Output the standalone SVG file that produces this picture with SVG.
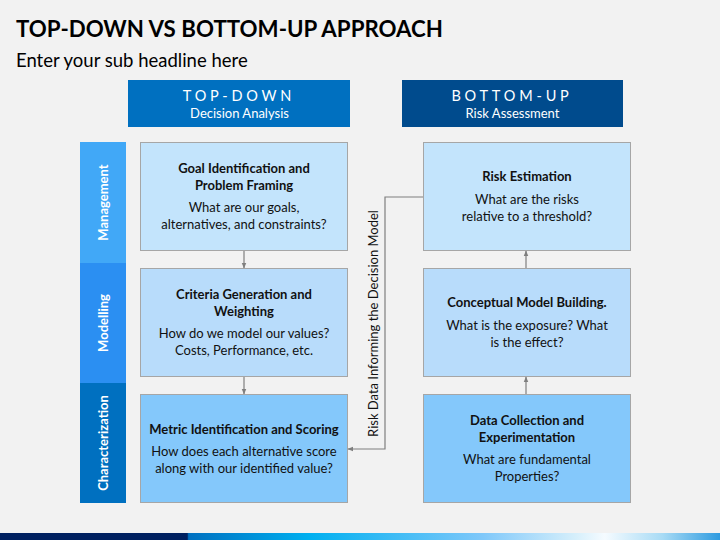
<svg xmlns="http://www.w3.org/2000/svg" width="720" height="540" viewBox="0 0 720 540">
<defs>
<style>
.t{font-family:Lato,"Open Sans","Liberation Sans",sans-serif;}
.h{font-weight:bold;font-size:13px;fill:#111;text-anchor:middle;}
.b{font-size:13px;fill:#111;text-anchor:middle;}
.side{font-weight:bold;font-size:13px;fill:#fff;text-anchor:middle;}
.box{stroke:#a6a6a6;stroke-width:1;}
.conn{fill:none;stroke:#7f7f7f;stroke-width:1.2;}
</style>
<marker id="ah" viewBox="0 0 10 10" refX="9" refY="5" markerWidth="6" markerHeight="6" orient="auto" markerUnits="userSpaceOnUse">
<path d="M0,1 L10,5 L0,9 Z" fill="#7f7f7f"/>
</marker>
<linearGradient id="band" x1="0" y1="0" x2="720" y2="0" gradientUnits="userSpaceOnUse">
<stop offset="0" stop-color="#002060"/>
<stop offset="0.26" stop-color="#002060"/>
<stop offset="0.262" stop-color="#0070c0"/>
<stop offset="0.43" stop-color="#00b0f0"/>
<stop offset="0.67" stop-color="#7fc8fa"/>
<stop offset="0.8" stop-color="#d6effb"/>
<stop offset="0.84" stop-color="#f5fbff"/>
<stop offset="0.92" stop-color="#a8dbf5"/>
<stop offset="1" stop-color="#2e9be0"/>
</linearGradient>
</defs>
<rect x="0" y="0" width="720" height="540" fill="#f2f2f2"/>
<text class="t" x="16" y="37" font-size="22.5" font-weight="bold" fill="#000" textLength="427" lengthAdjust="spacingAndGlyphs">TOP-DOWN VS BOTTOM-UP APPROACH</text>
<text class="t" x="16" y="67" font-size="18.5" fill="#000">Enter your sub headline here</text>

<g id="header-topdown">
<rect x="128" y="80" width="222" height="47" fill="#0070c0"/>
<text class="t" x="239" y="101" font-size="14.5" fill="#fff" text-anchor="middle" letter-spacing="3.8">TOP-DOWN</text>
<text class="t" x="239.5" y="118" font-size="13" fill="#fff" text-anchor="middle">Decision Analysis</text>
</g>
<g id="header-bottomup">
<rect x="402" y="80" width="221" height="47" fill="#004b8d"/>
<text class="t" x="512" y="101" font-size="14.5" fill="#fff" text-anchor="middle" letter-spacing="3.8">BOTTOM-UP</text>
<text class="t" x="512.5" y="118" font-size="13" fill="#fff" text-anchor="middle">Risk Assessment</text>
</g>

<g id="bar-management">
<rect x="80" y="142" width="46" height="121" fill="#41a8f7"/>
<text class="t side" transform="translate(108 202.5) rotate(-90)">Management</text>
</g>
<g id="bar-modelling">
<rect x="80" y="263" width="46" height="120" fill="#2b8ff2"/>
<text class="t side" transform="translate(108 323) rotate(-90)">Modelling</text>
</g>
<g id="bar-characterization">
<rect x="80" y="383" width="46" height="120" fill="#0070c0"/>
<text class="t side" transform="translate(108 443) rotate(-90)">Characterization</text>
</g>

<g id="goal">
<rect class="box" x="140.5" y="142.5" width="207" height="108" fill="#c3e4fc"/>
<text class="t h" x="244" y="173">Goal Identification and</text>
<text class="t h" x="244" y="190">Problem Framing</text>
<text class="t b" x="244" y="212">What are our goals,</text>
<text class="t b" x="244" y="229">alternatives, and constraints?</text>
</g>
<g id="criteria">
<rect class="box" x="140.5" y="268.5" width="207" height="108" fill="#b8dcfb"/>
<text class="t h" x="244" y="299">Criteria Generation and</text>
<text class="t h" x="244" y="316">Weighting</text>
<text class="t b" x="244" y="338">How do we model our values?</text>
<text class="t b" x="244" y="355">Costs, Performance, etc.</text>
</g>
<g id="metric">
<rect class="box" x="140.5" y="394.5" width="207" height="108" fill="#84c8fb"/>
<text class="t h" x="244" y="434">Metric Identification and Scoring</text>
<text class="t b" x="244" y="456">How does each alternative score</text>
<text class="t b" x="244" y="473">along with our identified value?</text>
</g>
<g id="risk">
<rect class="box" x="423.5" y="142.5" width="207" height="108" fill="#c3e4fc"/>
<text class="t h" x="527" y="181">Risk Estimation</text>
<text class="t b" x="527" y="204">What are the risks</text>
<text class="t b" x="527" y="221">relative to a threshold?</text>
</g>
<g id="conceptual">
<rect class="box" x="423.5" y="268.5" width="207" height="108" fill="#b8dcfb"/>
<text class="t h" x="527" y="307">Conceptual Model Building.</text>
<text class="t b" x="527" y="330">What is the exposure? What</text>
<text class="t b" x="527" y="347">is the effect?</text>
</g>
<g id="data">
<rect class="box" x="423.5" y="394.5" width="207" height="108" fill="#84c8fb"/>
<text class="t h" x="527" y="425">Data Collection and</text>
<text class="t h" x="527" y="442">Experimentation</text>
<text class="t b" x="527" y="464">What are fundamental</text>
<text class="t b" x="527" y="481">Properties?</text>
</g>

<g id="connectors">
<line class="conn" x1="244" y1="251" x2="244" y2="268" marker-end="url(#ah)"/>
<line class="conn" x1="244" y1="377" x2="244" y2="394" marker-end="url(#ah)"/>
<line class="conn" x1="526" y1="394" x2="526" y2="377" marker-end="url(#ah)"/>
<line class="conn" x1="526" y1="268" x2="526" y2="251" marker-end="url(#ah)"/>
<polyline class="conn" points="423,197 385,197 385,449 348,449" marker-end="url(#ah)"/>
<text class="t" transform="translate(378 323.5) rotate(-90)" font-size="13" fill="#111" text-anchor="middle">Risk Data Informing the Decision Model</text>
</g>

<rect x="0" y="533" width="720" height="7" fill="url(#band)"/>
</svg>
